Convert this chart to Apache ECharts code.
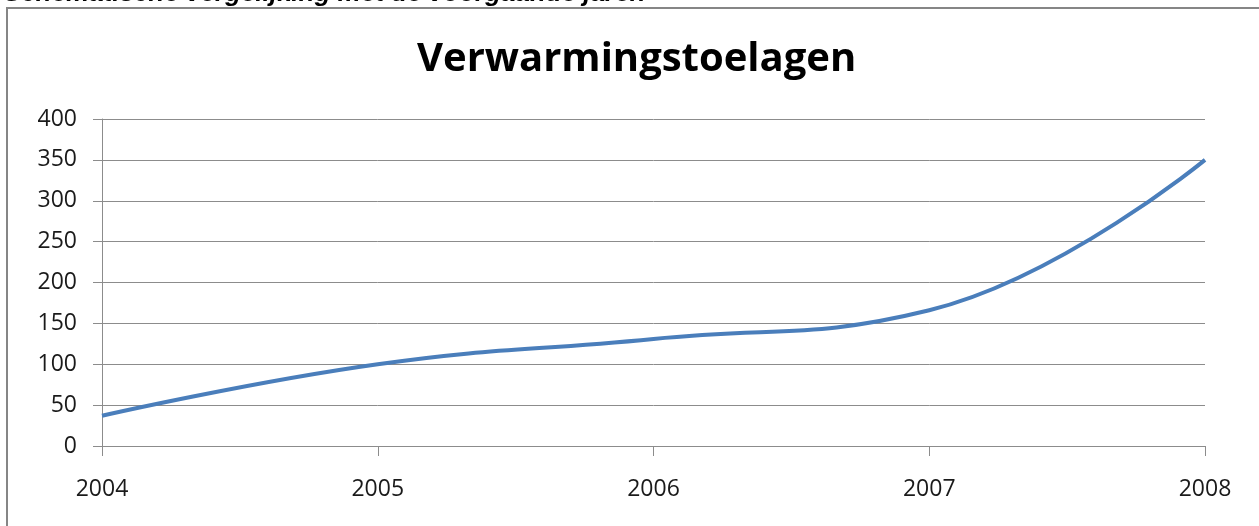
<!DOCTYPE html>
<html>
<head>
<meta charset="utf-8">
<script src="https://cdn.jsdelivr.net/npm/echarts@6/dist/echarts.min.js"></script>
<style>
  html, body { margin: 0; padding: 0; background: #fff; }
  #main { width: 1259px; height: 526px; }
</style>
</head>
<body>
<div id="main"></div>
<script>
var years = ['2004', '2005', '2006', '2007', '2008'];
var toelagen = [37, 100, 131, 166, 350];
var yTicks = [0, 50, 100, 150, 200, 250, 300, 350, 400];

var gridColor = '#8c8c8c';
var labelFont = 'Open Sans';

var chart = echarts.init(document.getElementById('main'));
chart.setOption({
  animation: false,
  title: {
    text: 'Verwarmingstoelagen',
    left: 412,
    top: 35,
    textStyle: { fontFamily: labelFont, fontWeight: 'bold', fontSize: 40, color: '#000' }
  },
  graphic: [
    {
      type: 'rect',
      shape: { x: 7, y: 8, width: 1300, height: 600 },
      style: { fill: 'none', stroke: '#868686', lineWidth: 2 }
    },
    {
      type: 'text',
      left: 4,
      top: -19,
      style: {
        text: 'Schematische vergelijking met de voorgaande jaren',
        font: 'italic bold 26px "Liberation Sans"',
        fill: '#000'
      }
    }
  ],
  grid: { left: 102, right: 54, top: 119, bottom: 80 },
  xAxis: {
    type: 'category',
    data: years,
    boundaryGap: false,
    axisLine: { lineStyle: { color: gridColor, width: 1 } },
    axisTick: { show: true, length: 10, lineStyle: { color: gridColor } },
    axisLabel: { margin: 32, fontFamily: labelFont, fontSize: 23, color: '#1a1a1a' },
    splitLine: { show: false }
  },
  yAxis: {
    type: 'value',
    min: 0,
    max: 400,
    interval: 50,
    axisLine: { show: true, lineStyle: { color: gridColor, width: 1 } },
    axisTick: { show: true, length: 9, lineStyle: { color: gridColor } },
    axisLabel: {
      margin: 25, fontFamily: labelFont, fontSize: 23, color: '#1a1a1a',
      formatter: function (v) { return yTicks.indexOf(v) >= 0 ? String(v) : ''; }
    },
    splitLine: { lineStyle: { color: gridColor, width: 1 } }
  },
  series: [{
    type: 'line',
    data: toelagen,
    smooth: 0.45,
    showSymbol: false,
    lineStyle: { color: '#4a7ebb', width: 4 }
  }]
});
</script>
</body>
</html>
